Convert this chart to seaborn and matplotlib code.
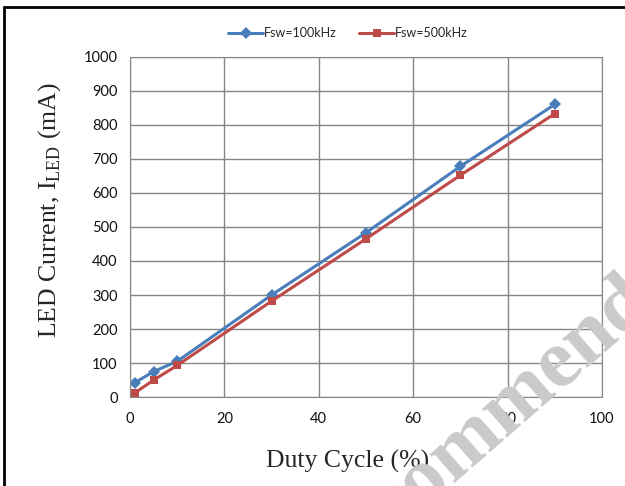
import seaborn as sns
import matplotlib.pyplot as plt
import pandas as pd
from matplotlib.lines import Line2D

# duty cycle (%) and LED current (mA)
duty = [1, 5, 10, 30, 50, 70, 90]
i_100k = [42, 75, 105, 300, 483, 678, 860]
i_500k = [12, 50, 93, 282, 465, 652, 833]
series = ['Fsw=100kHz', 'Fsw=500kHz']

df = pd.DataFrame({
    'duty': duty * 2,
    'current': i_100k + i_500k,
    'fsw': [series[0]] * len(duty) + [series[1]] * len(duty),
})

sns.set_style('white')
plt.rcParams['font.family'] = ['Lato', 'DejaVu Sans']
plt.rcParams['mathtext.fontset'] = 'custom'
plt.rcParams['mathtext.rm'] = 'Liberation Serif'

fig = plt.figure(figsize=(6.25, 4.86), dpi=100)
ax = fig.add_axes([0.208, 0.183, 0.755, 0.700])

sns.lineplot(data=df, x='duty', y='current', hue='fsw', style='fsw',
             palette={series[0]: '#4A7EBB', series[1]: '#BE4B48'},
             markers={series[0]: 'D', series[1]: 's'}, dashes=False,
             markersize=6, markeredgewidth=0, linewidth=2.2, ax=ax)

ax.set_xlim(0, 100)
ax.set_ylim(0, 1000)
ax.set_xticks(range(0, 101, 20))
ax.set_yticks(range(0, 1001, 100))
ax.grid(True, color='#868686', linewidth=1)
ax.set_axisbelow(True)
for s in ax.spines.values():
    s.set_color('#868686')
ax.tick_params(length=0, labelsize=10.5, colors='#111111')
ax.tick_params(axis='x', pad=11)
ax.tick_params(axis='y', pad=9)

ax.set_xlabel('Duty Cycle (%)', fontsize=18.5, family='Liberation Serif')
ax.set_ylabel(r'LED Current, I$_{\mathrm{LED}}$ (mA)', fontsize=18.5,
              family='Liberation Serif')
ax.xaxis.set_label_coords(0.46, -0.155)
ax.yaxis.set_label_coords(-0.142, 0.55)

handles, labels = ax.get_legend_handles_labels()
ax.legend(handles, labels, loc='center', bbox_to_anchor=(348 / 625, 1 - 33 / 486),
          bbox_transform=fig.transFigure, ncol=2, frameon=False, fontsize=9,
          handlelength=2.8, columnspacing=1.8, handletextpad=0.05)

# watermark
fig.text(507 / 625, 1 - 410 / 486, 'Recommended', fontsize=60, fontweight='bold',
         family='Liberation Serif', color='#cacaca', rotation=41,
         ha='center', va='center', zorder=10)

# page frame
fig.add_artist(Line2D([4 / 625, 1], [1 - 7 / 486, 1 - 7 / 486], color='black', lw=2))
fig.add_artist(Line2D([4 / 625, 4 / 625], [0, 1 - 7 / 486], color='black', lw=2))

fig.savefig('out.png', dpi=100)
